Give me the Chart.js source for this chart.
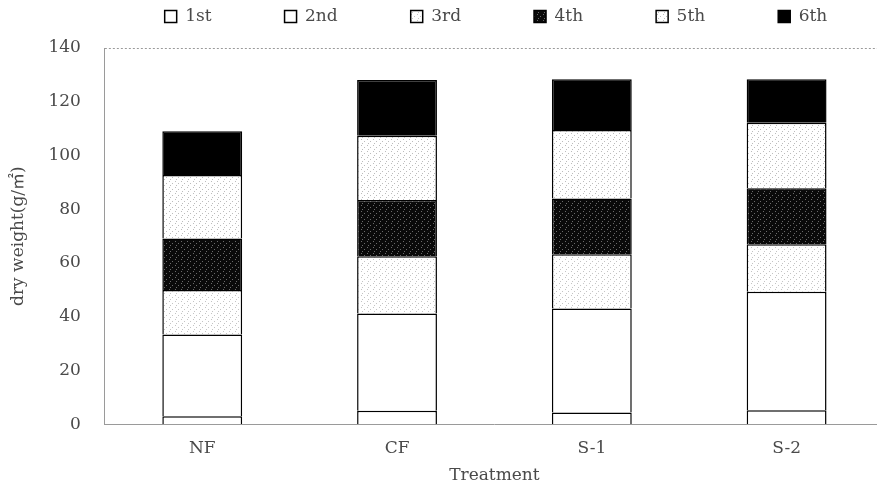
<!DOCTYPE html>
<html>
<head>
<meta charset="utf-8">
<script src="https://cdn.jsdelivr.net/npm/chart.js@4"></script>
<style>
  html, body { margin: 0; padding: 0; background: #fff; overflow: hidden; }
  #wrap { width: 884px; height: 490px; }
</style>
</head>
<body>
<div id="wrap"><canvas id="chart"></canvas></div>
<script>
/* DATOS */
const treatments = ['NF', 'CF', 'S-1', 'S-2'];
const seriesNames = ['1st', '2nd', '3rd', '4th', '5th', '6th'];
const v1st = [3.0, 5.0, 4.4, 5.2];
const v2nd = [30.4, 36.2, 38.7, 44.1];
const v3rd = [16.5, 21.3, 20.1, 17.7];
const v4th = [19.2, 20.9, 20.8, 20.8];
const v5th = [23.6, 23.9, 25.5, 24.4];
const v6th = [16.3, 20.8, 18.9, 16.2];
const yTicks = [0, 20, 40, 60, 80, 100, 120, 140];

/* TRAMAS (puntos grises sobre fondo) */
function trama(fondo, punto) {
  const c = document.createElement('canvas');
  c.width = 6; c.height = 6;
  const g = c.getContext('2d');
  g.fillStyle = fondo;
  g.fillRect(0, 0, 6, 6);
  g.fillStyle = punto;
  g.fillRect(1, 1, 1, 1);
  g.fillRect(4, 3, 1, 1);
  g.fillRect(2, 5, 1, 1);
  return g.createPattern(c, 'repeat');
}

const fills = [
  '#ffffff',
  '#ffffff',
  trama('#ffffff', '#c4c4c4'),
  trama('#0a0a0a', '#6a6a6a'),
  trama('#ffffff', '#bcbcbc'),
  '#000000',
];
const values = [v1st, v2nd, v3rd, v4th, v5th, v6th];

const datasets = seriesNames.map((name, i) => ({
  label: name,
  data: values[i],
  backgroundColor: fills[i],
  borderColor: '#000',
  borderWidth: 1.5,
  categoryPercentage: 1,
  barPercentage: 0.41,
}));

/* Marco punteado superior del área del gráfico */
const marco = {
  id: 'marco',
  afterDraw(chart) {
    const { ctx, chartArea: a } = chart;
    ctx.save();
    ctx.strokeStyle = '#9a9a9a';
    ctx.lineWidth = 1;
    ctx.setLineDash([2, 2]);
    ctx.beginPath();
    ctx.moveTo(a.left, a.top + 0.5);
    ctx.lineTo(a.right, a.top + 0.5);
    ctx.stroke();
    ctx.restore();
  },
};

/* Leyenda: items muy separados pero con poca altura */
const LEYENDA_PAD = 73;
const LEYENDA_ALTO = 48;
const LEYENDA_DX = 50;
const LEYENDA_DY = 8 - LEYENDA_PAD;
const ajusteLeyenda = {
  id: 'ajusteLeyenda',
  beforeLayout(chart) {
    const leg = chart.legend;
    if (!leg || leg._parcheado) return;
    leg._parcheado = true;
    const fit = leg.fit;
    leg.fit = function () { fit.call(this); this.height = LEYENDA_ALTO; };
    const draw = leg.draw;
    leg.draw = function () {
      const ctx = this.ctx;
      ctx.save();
      ctx.translate(LEYENDA_DX, LEYENDA_DY);
      this.bottom -= LEYENDA_DY;
      draw.call(this);
      this.bottom += LEYENDA_DY;
      ctx.restore();
    };
  },
};

const serif = "'DejaVu Serif', 'Liberation Serif', 'Noto Sans CJK KR', serif";
const gris = '#4a4a4a';

new Chart(document.getElementById('chart'), {
  type: 'bar',
  data: { labels: treatments, datasets },
  plugins: [marco, ajusteLeyenda],
  options: {
    responsive: true,
    maintainAspectRatio: false,
    animation: false,
    layout: { padding: { top: 0, left: 8, right: 0, bottom: 4 } },
    plugins: {
      tooltip: { enabled: false },
      legend: {
        position: 'top',
        labels: {
          boxWidth: 12,
          boxHeight: 12,
          padding: LEYENDA_PAD,
          color: gris,
          font: { family: serif, size: 17 },
        },
      },
    },
    scales: {
      x: {
        stacked: true,
        grid: { display: false, drawTicks: false },
        border: { display: true, color: '#9a9a9a', dash: [2, 2] },
        ticks: { color: gris, font: { family: serif, size: 17 }, padding: 14 },
        title: { display: true, text: 'Treatment', color: gris, font: { family: serif, size: 17 }, padding: { top: -7, bottom: 0 } },
      },
      y: {
        stacked: true,
        min: 0,
        max: 140,
        afterBuildTicks(axis) { axis.ticks = yTicks.map(v => ({ value: v })); },
        grid: { display: false, drawTicks: false },
        border: { display: true, color: '#9a9a9a', dash: [2, 2] },
        ticks: { color: gris, font: { family: serif, size: 17 }, padding: 24 },
        title: { display: true, text: 'dry weight(g/㎡)', color: gris, font: { family: serif, size: 17 }, padding: { top: 0, bottom: -4 } },
      },
    },
  },
});
</script>
</body>
</html>
